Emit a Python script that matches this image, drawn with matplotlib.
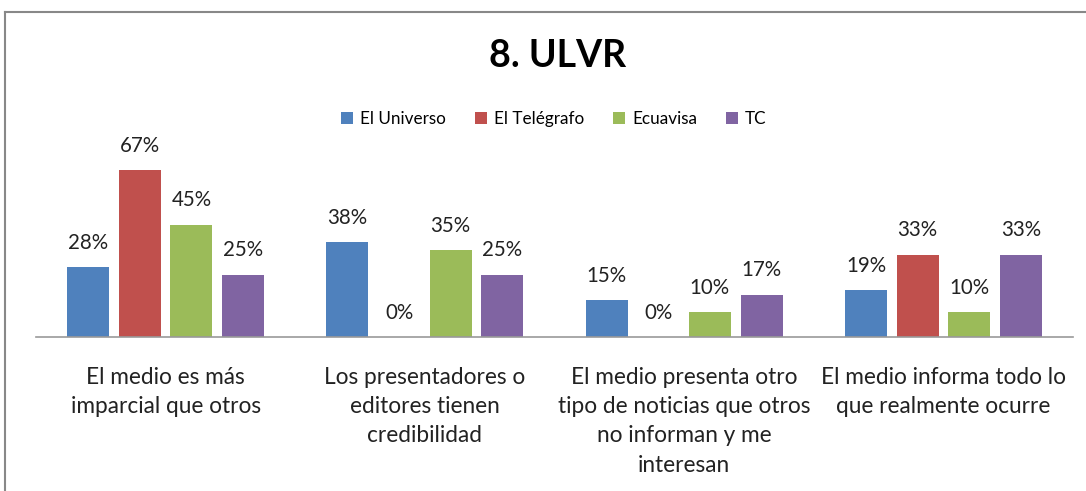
import matplotlib
matplotlib.use("Agg")
import matplotlib.pyplot as plt
from matplotlib.lines import Line2D
import numpy as np

categories = ["El medio es más\nimparcial que otros",
              "Los presentadores o\neditores tienen\ncredibilidad",
              "El medio presenta otro\ntipo de noticias que otros\nno informan y me\ninteresan",
              "El medio informa todo lo\nque realmente ocurre"]
series = ["El Universo", "El Telégrafo", "Ecuavisa", "TC"]
el_universo = [28, 38, 15, 19]
el_telegrafo = [67, 0, 0, 33]
ecuavisa = [45, 35, 10, 10]
tc = [25, 25, 17, 33]
colors = ["#4F81BD", "#C0504D", "#9BBB59", "#8064A2"]
title = "8. ULVR"

plt.rcParams['font.family'] = ['Lato', 'DejaVu Sans']

fig = plt.figure(figsize=(10.86, 4.91), dpi=100)
ax = fig.add_axes([36/1086, 154/491, 1037/1086, 200/491])

x = np.arange(len(categories))
data = [el_universo, el_telegrafo, ecuavisa, tc]
step = 0.199
width = 0.162
for i, (name, vals, c) in enumerate(zip(series, data, colors)):
    pos = x + (i - 1.5) * step
    ax.bar(pos, vals, width=width, color=c, label=name)
    for p, v in zip(pos, vals):
        ax.text(p, v + 9.6, f"{v}%", ha='center', va='center', fontsize=14.8, color='#222222')

ax.set_xlim(-0.5, len(categories) - 0.5)
ax.set_ylim(0, 80)
ax.set_yticks([])
ax.set_xticks([])
for s in ['top', 'right', 'left']:
    ax.spines[s].set_visible(False)
ax.spines['bottom'].set_color('#999999')
ax.spines['bottom'].set_linewidth(1.2)

for xi, lab in zip(x, categories):
    ax.text(xi, -11.8, lab, ha='center', va='top', fontsize=16.3, color='#222222',
            linespacing=1.5, transform=ax.transData)

fig.text(0.513, 0.885, title, ha='center', va='center', fontsize=27, fontweight='bold', color='black')

fig.legend(loc='center', bbox_to_anchor=(0.51, 0.757), ncol=4, frameon=False,
           fontsize=12.3, handlelength=0.7, handleheight=0.7, handletextpad=0.4,
           columnspacing=1.7)

# outer frame
fig.add_artist(Line2D([5/1086, 1.0], [1 - 12/491, 1 - 12/491], color='#888888', lw=1.5, transform=fig.transFigure))
fig.add_artist(Line2D([5/1086, 5/1086], [0, 1 - 12/491], color='#888888', lw=1.5, transform=fig.transFigure))

fig.savefig("out.png", dpi=100)
